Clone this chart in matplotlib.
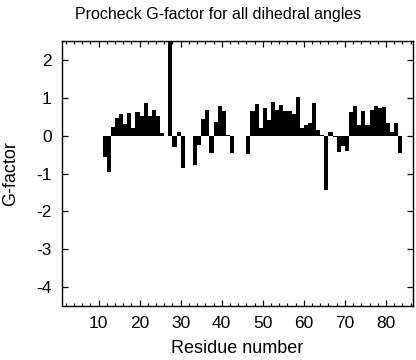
import numpy as np
import matplotlib
matplotlib.use("Agg")
import matplotlib.pyplot as plt
from matplotlib.ticker import MultipleLocator

plt.rcParams['font.family'] = ['Liberation Sans', 'DejaVu Sans']
plt.rcParams['axes.unicode_minus'] = False

residues = np.arange(11, 84)
gfactor = [
    -0.57, -0.97, 0.22, 0.46, 0.57, 0.31, 0.60, 0.19, 0.63, 0.53,   # 11-20
    0.87, 0.53, 0.69, 0.53, 0.06, 0.00, 2.70, -0.29, 0.10, -0.86,   # 21-30
    0.00, 0.00, -0.78, -0.25, 0.45, 0.69, -0.46, 0.35, 0.79, 0.65,  # 31-40
    0.03, -0.47, 0.00, 0.00, 0.00, -0.48, 0.64, 0.84, 0.21, 0.73,   # 41-50
    0.42, 0.89, 0.69, 0.82, 0.66, 0.64, 0.56, 1.01, 0.19, 0.28,     # 51-60
    0.34, 0.86, 0.15, 0.03, -1.43, 0.10, -0.03, -0.43, -0.28, -0.40,  # 61-70
    0.63, 0.78, 0.27, 0.64, 0.27, 0.68, 0.78, 0.72, 0.75, 0.34,     # 71-80
    0.09, 0.33, -0.47,                                              # 81-83
]

fig = plt.figure(figsize=(4.16, 3.6), dpi=100)
ax = fig.add_axes([0.148, 0.15, 0.844, 0.736])

ax.bar(residues, gfactor, width=1.0, align='edge', color='black', linewidth=0)

ax.set_xlim(1, 86.5)
ax.set_ylim(-4.5, 2.5)
ax.xaxis.set_major_locator(MultipleLocator(10))
ax.xaxis.set_minor_locator(MultipleLocator(2))
ax.yaxis.set_major_locator(MultipleLocator(1))

ax.tick_params(which='both', direction='in', top=True, right=True, labelsize=12.5, width=0.9)
ax.tick_params(which='major', length=4.3, pad=7)
ax.tick_params(which='minor', length=2.2)
ax.tick_params(axis='y', which='minor', left=False, right=False)
for s in ax.spines.values():
    s.set_linewidth(1.0)

ax.set_xlabel("Residue number", fontsize=13, labelpad=7)
ax.set_ylabel("G-factor", fontsize=13)
ax.yaxis.set_label_coords(-0.122, 0.5)

fig.text(0.525, 0.947, "Procheck G-factor for all dihedral angles", fontsize=11.5,
         ha='center', va='baseline')

fig.savefig("out.png", dpi=100)
